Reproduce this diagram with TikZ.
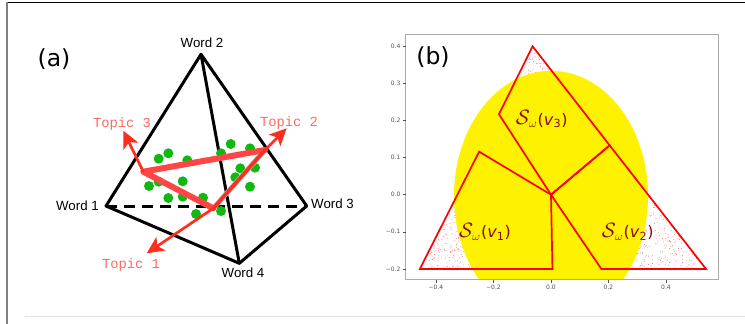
\documentclass[tikz,border=0pt]{standalone}
\usepackage{fontspec}
\usepackage{amsmath}
\setmainfont{Liberation Sans}
\newfontfamily\dejavu{DejaVu Sans}
\newfontfamily\topicfont{Liberation Mono}
\usetikzlibrary{arrows.meta}
\definecolor{topicred}{RGB}{255,45,30}
\definecolor{trired}{RGB}{255,70,70}
\definecolor{labred}{RGB}{255,105,95}
\definecolor{dotgreen}{RGB}{15,185,15}
\definecolor{sred}{RGB}{140,10,10}
\definecolor{axisgray}{RGB}{170,170,170}
\definecolor{ticklab}{RGB}{80,80,80}
\tikzset{
  edge/.style={line width=3pt, line join=round, line cap=round},
  wordlab/.style={inner sep=0pt, font=\fontsize{13.3}{14}\selectfont},
  topiclab/.style={inner sep=0pt, text=labred, font=\topicfont\fontsize{13.8}{14}\selectfont},
  topicarrow/.style={draw=topicred, line width=2.7pt, -{Stealth[length=17pt,width=16pt,inset=4pt]}},
  gdot/.style={fill=dotgreen},
  panellab/.style={inner sep=0pt, font=\dejavu\fontsize{23.5}{24}\selectfont},
  region/.style={draw=red, line width=1.7pt, line join=miter},
  slab/.style={inner sep=0pt, text=sred, font=\dejavu\fontsize{16}{16}\selectfont},
  ticklabel/.style={inner sep=0pt, text=ticklab, font=\dejavu\fontsize{6}{6}\selectfont},
}
\newcommand{\swv}[1]{\raisebox{0.5pt}{\fontsize{20}{20}\selectfont$\mathcal{S}$}\kern-1pt$_{\text{\fontsize{13}{13}\selectfont$\omega$}}$\kern0.5pt(\textit{v}$_{\text{#1}}$)}
\begin{document}
\begin{tikzpicture}[x=1pt,y=-1pt]
\useasboundingbox (0,0) rectangle (745,324);
% frame lines
\draw[black, line width=1pt] (6,2.5) -- (745,2.5);
\draw[gray, line width=2pt] (6.7,2) -- (6.7,324);
\draw[black!12, line width=1pt] (25,316) -- (745,316);

% ---------------- panel (a) ----------------
\node[panellab] (la) at (54,59) {(a)};
\coordinate (W1) at (106,206);
\coordinate (W2) at (201,54.3);
\coordinate (W3) at (306.7,206);
\coordinate (W4) at (239.3,263.3);
\draw[edge] (W1) -- (W2) -- (W3) -- (W4) -- cycle;
\draw[edge] (W2) -- (W4);
\draw[line width=3pt, dash pattern=on 11pt off 7pt] (W1) -- (W3);
\node[wordlab, anchor=base] (w2) at (202,47.5) {Word 2};
\node[wordlab, anchor=base east] (w1) at (99,210) {Word 1};
\node[wordlab, anchor=base west] (w3) at (311,208.5) {Word 3};
\node[wordlab, anchor=base] (w4) at (243,277) {Word 4};

% green dots
\foreach \p in {(158.7,158.7),(168.3,153.3),(187.3,160.3),(221,153.3),(230.7,144),
  (250,148.3),(240.3,168.3),(255,167.7),(235.3,177.3),(250,186.7),(149,186),
  (158.7,181.7),(182.7,181.3),(168.3,198),(182.7,196.7),(203,197.7),(196,214),(221,211)}
  \fill[gdot] \p circle[radius=5pt];

% topic triangle
\coordinate (T3) at (143.3,171.7);
\coordinate (T2) at (265,150);
\coordinate (T1) at (213.3,208.3);
\coordinate (tip3) at (123.3,130.7);
\coordinate (tip2) at (286.7,128.3);
\coordinate (tip1) at (146.7,253.3);
\begin{scope}[shift={(2,3)}]
  \draw[black!30, line width=5pt, line cap=round, line join=round] (T3) -- (T2) -- (T1);
\end{scope}
\draw[trired, line width=6pt, line cap=round, line join=round] (T2) -- (T3) -- (T1);
\draw[topicred, line width=3.5pt, line cap=round] (T1) -- (T2);
\draw[topicarrow] (T3) -- (tip3);
\draw[topicarrow] (T2) -- (tip2);
\draw[topicarrow] (T1) -- (tip1);
\node[topiclab, anchor=base] (t3) at (122,127) {Topic 3};
\node[topiclab, anchor=base] (t2) at (289,126) {Topic 2};
\node[topiclab, anchor=base] (t1) at (131,268) {Topic 1};

% ---------------- panel (b) ----------------
\begin{scope}[shift={(551,194.7)}, x=287.5pt, y=371pt]
  \coordinate (A) at (-0.456,-0.2);
  \coordinate (B) at (0.539,-0.2);
  \coordinate (C) at (-0.064,0.4);
  \coordinate (O) at (0,0);
  \coordinate (L1) at (-0.25,0.116);
  \coordinate (R1) at (0.204,0.133);
  \coordinate (L3) at (-0.181,0.217);
  \coordinate (M1) at (0.005,-0.2);
  \coordinate (M2) at (0.175,-0.2);
  \begin{scope}
    \clip (-0.5054,-0.2299) rectangle (0.5843,0.4323);
    \pgfmathsetseed{11}
    \foreach \i in {1,...,2600}{
      \pgfmathsetmacro\ra{rnd}
      \pgfmathsetmacro\rb{rnd}
      \pgfmathsetmacro\s{sqrt(\ra)}
      \pgfmathsetmacro\px{(1-\s)*(-0.456)+\s*(1-\rb)*0.539+\s*\rb*(-0.064)}
      \pgfmathsetmacro\py{(1-\s)*(-0.2)+\s*(1-\rb)*(-0.2)+\s*\rb*0.4}
      \fill[red!55] (\px,\py) circle[radius=0.45pt];
    }
    \fill[yellow] (0,-0.003) ellipse[x radius=97pt, y radius=125pt];
  \end{scope}
  \draw[axisgray, line width=1pt] (-0.5054,-0.2299) rectangle (0.5843,0.4323);
  \foreach \v/\l in {0.4/0.4,0.3/0.3,0.2/0.2,0.1/0.1,0.0/0.0,-0.1/−0.1,-0.2/−0.2}{
    \draw[ticklab, line width=0.6pt] (-0.5054,\v) -- ++(-3pt,0);
    \node[ticklabel, anchor=east] at ([xshift=-5pt]-0.5054,\v) {\l};
  }
  \foreach \v/\l in {-0.4/−0.4,-0.2/−0.2,0.0/0.0,0.2/0.2,0.4/0.4}{
    \draw[ticklab, line width=0.6pt] (\v,-0.2299) -- ++(0,-3pt);
    \node[ticklabel, anchor=north] at ([yshift=-5pt]\v,-0.2299) {\l};
  }
  \draw[region] (A) -- (M1) -- (O) -- (L1) -- cycle;
  \draw[region] (C) -- (R1) -- (O) -- (L3) -- cycle;
  \draw[region] (B) -- (M2) -- (O) -- (R1) -- cycle;
\end{scope}
\node[panellab] (lb) at (433,57) {(b)};
\node[slab] (s3) at (541.7,119.3) {\swv{3}};
\node[slab] (s1) at (485,231.7) {\swv{1}};
\node[slab] (s2) at (627.7,231.7) {\swv{2}};
\end{tikzpicture}
\end{document}
